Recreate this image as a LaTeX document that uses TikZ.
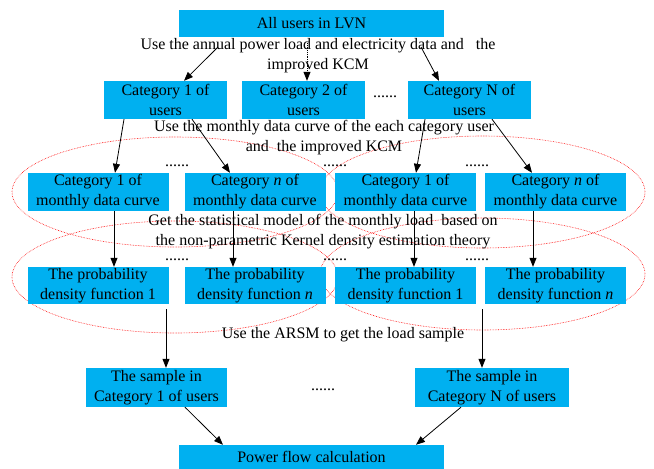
\documentclass[tikz,border=0pt]{standalone}
\usepackage{fontspec}
\setmainfont{Liberation Serif}
\usetikzlibrary{calc,arrows.meta,positioning}
\definecolor{boxblue}{RGB}{0,176,240}

\begin{document}
\begin{tikzpicture}[x=1pt,y=-1pt,font=\fontsize{16pt}{20pt}\selectfont,>={Triangle[length=9pt,width=7pt]}]
	\tikzstyle{block} = [fill=boxblue,inner sep=0pt,align=center]
	\tikzstyle{wideblock} = [block,minimum width=265pt]
	\tikzstyle{userblock} = [block,minimum width=123pt,minimum height=38pt]
	\tikzstyle{curveblock} = [block,minimum width=141pt,minimum height=38pt]
	\tikzstyle{note} = [inner sep=0pt,align=center]
	\tikzstyle{dots} = [inner sep=0pt,anchor=base]
	\tikzstyle{group} = [red,line width=0.6pt,densely dotted]
	\tikzstyle{link} = [->,line width=0.8pt]
	\useasboundingbox (0,0) rectangle (654,469);

	% groups
	\draw[group] (175,192) ellipse [x radius=163pt,y radius=55pt];
	\draw[group] (482.5,192) ellipse [x radius=162.5pt,y radius=56pt];
	\draw[group] (175,277) ellipse [x radius=163pt,y radius=56pt];
	\draw[group] (482.5,274) ellipse [x radius=162.5pt,y radius=56pt];

	% boxes
	\node[wideblock,minimum height=27pt] (AllUsers) at (311.5,23.3) {All users in LVN};
	\node[userblock] (UsersOne) at (165.5,100) {Category 1 of\\users};
	\node[userblock] (UsersTwo) at (303.5,100) {Category 2 of\\users};
	\node[userblock] (UsersN) at (469.5,100) {Category N of\\users};

	\node[curveblock] (CurveOneA) at (98,192) {Category 1 of\\monthly data curve};
	\node[curveblock] (CurveNA) at (255,192) {Category \textit{n} of\\monthly data curve};
	\node[curveblock] (CurveOneB) at (405.5,192) {Category 1 of\\monthly data curve};
	\node[curveblock] (CurveNB) at (555.5,192) {Category \textit{n} of\\monthly data curve};

	\node[curveblock,minimum height=37pt] (PdfOneA) at (98,285.5) {The probability\\density function 1};
	\node[curveblock,minimum height=37pt] (PdfNA) at (255,285.5) {The probability\\density function \textit{n}};
	\node[curveblock,minimum height=37pt] (PdfOneB) at (405.5,285.5) {The probability\\density function 1};
	\node[curveblock,minimum height=37pt] (PdfNB) at (555.5,285.5) {The probability\\density function \textit{n}};

	\node[block,minimum width=141pt,minimum height=39pt] (SampleOne) at (156.5,387.5) {The sample in\\Category 1 of users};
	\node[block,minimum width=154pt,minimum height=39pt] (SampleN) at (492,387.5) {The sample in\\Category N of users};
	\node[wideblock,minimum height=24pt] (PowerFlow) at (311.5,457) {Power flow calculation};

	% texts
	\node[note] (StepOne) at (318,56) {Use the annual power load and electricity data and \ \ the\\improved KCM};
	\node[note] (StepTwo) at (324,138) {Use the monthly data curve of the each category user\\and \ the improved KCM};
	\node[note] (StepThree) at (323,232) {Get the statistical model of the monthly load \ based on\\the non-parametric Kernel density estimation theory};
	\node[note] (StepFour) at (343,335) {Use the ARSM to get the load sample};

	\node[dots] (DotsA) at (385,97) {......};
	\node[dots] (DotsB) at (177,166) {......};
	\node[dots] (DotsC) at (335,166) {......};
	\node[dots] (DotsD) at (477,166) {......};
	\node[dots] (DotsE) at (177,260) {......};
	\node[dots] (DotsF) at (335,260) {......};
	\node[dots] (DotsG) at (477,260) {......};
	\node[dots] (DotsH) at (323,390) {......};

	% free ends
	\coordinate (StartOne) at (218,47);
	\coordinate (StartTwo) at (307,43);
	\coordinate (StartN) at (421,47);
	\coordinate (StartSampleOne) at (166,309);
	\coordinate (StartSampleN) at (482,309);

	\draw[link] (StartOne) -- (UsersOne.north -| 184,0);
	\draw[link,densely dotted] (StartTwo) -- (UsersTwo.north -| 307,0);
	\draw[link] (StartN) -- (UsersN.north -| 439,0);

	\draw[link] (UsersOne.south -| 124,0) -- (CurveOneA.north -| 115,0);
	\draw[link] (UsersOne.south -| 192,0) -- (CurveNA.north -| 230,0);
	\draw[link] (UsersN.south -| 425,0) -- (CurveOneB.north -| 416,0);
	\draw[link] (UsersN.south -| 492,0) -- (CurveNB.north -| 532,0);

	\draw[link] (CurveOneA.south -| 114,0) -- (PdfOneA.north -| 114,0);
	\draw[link] (CurveNA.south -| 233,0) -- (PdfNA.north -| 233,0);
	\draw[link] (CurveOneB.south -| 414,0) -- (PdfOneB.north -| 414,0);
	\draw[link] (CurveNB.south -| 533,0) -- (PdfNB.north -| 533,0);

	\draw[link] (StartSampleOne) -- (SampleOne.north -| 166,0);
	\draw[link] (StartSampleN) -- (SampleN.north -| 482,0);

	\draw[link] (SampleOne.south -| 185,0) -- (PowerFlow.north -| 223,0);
	\draw[link] (SampleN.south -| 461,0) -- (PowerFlow.north -| 416,0);
\end{tikzpicture}
\end{document}
